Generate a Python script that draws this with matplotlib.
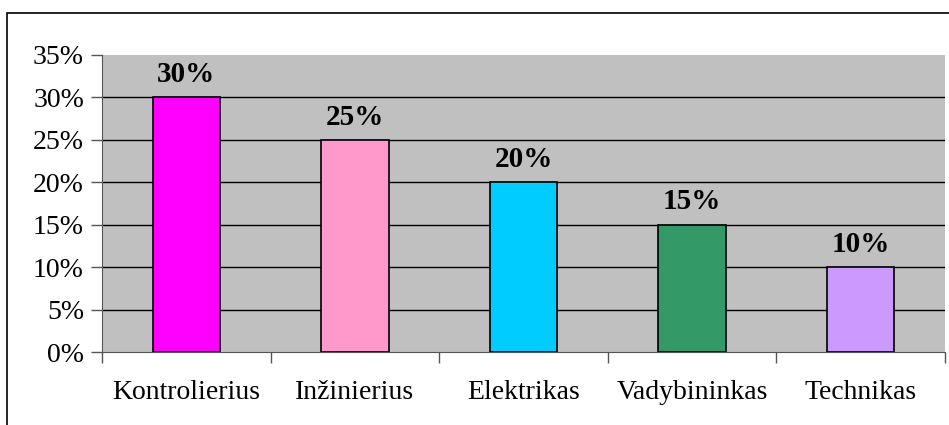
import matplotlib.pyplot as plt
from matplotlib.patches import Rectangle
from matplotlib.ticker import FuncFormatter, FixedLocator
import numpy as np

categories = ["Kontrolierius", "Inžinierius", "Elektrikas", "Vadybininkas", "Technikas"]
values = [30, 25, 20, 15, 10]
colors = ["#ff00ff", "#ff99cc", "#00ccff", "#339966", "#cc99ff"]

plt.rcParams['font.family'] = ['Liberation Serif', 'DejaVu Serif']

fig = plt.figure(figsize=(9.49, 4.25), dpi=100)
ax = fig.add_axes([102 / 949, 1 - 352 / 425, 843 / 949, 297 / 425])
ax.set_facecolor("#c0c0c0")

x = np.arange(len(categories))
ax.bar(x, np.array(values) / 100, width=0.4, color=colors, edgecolor="black", linewidth=1.2, zorder=3)
for xi, v in zip(x, values):
    ax.text(xi, v / 100 + 0.011, f"{v}%", ha="center", va="bottom", fontsize=21, fontweight="bold", zorder=4)

ax.set_xlim(-0.5, len(categories) - 0.5)
ax.set_ylim(0, 0.35)
ax.set_yticks(np.arange(0, 0.36, 0.05))
ax.yaxis.set_major_formatter(FuncFormatter(lambda v, p: f"{v * 100:.0f}%"))
for yv in np.arange(0.05, 0.31, 0.05):
    ax.axhline(yv, color="black", linewidth=1, zorder=1)

# category labels centred, tick marks on the boundaries
ax.set_xticks(x)
ax.set_xticklabels(categories)
ax.xaxis.set_minor_locator(FixedLocator(np.arange(-0.5, len(categories), 1)))
ax.tick_params(axis="x", which="major", length=0, pad=20, labelsize=20)
ax.tick_params(axis="x", which="minor", length=8, width=1, color="#555555", direction="out")
ax.tick_params(axis="y", length=8, width=1, color="#555555", direction="out", labelsize=20, pad=5)

ax.spines["top"].set_visible(False)
ax.spines["right"].set_visible(False)
ax.spines["left"].set_color("#555555")
ax.spines["bottom"].set_color("#555555")

fig.patches.append(Rectangle((7 / 949, -0.05), 1.0, 1 - 13 / 425 + 0.05, transform=fig.transFigure,
                             fill=False, edgecolor="black", linewidth=1.2))

fig.savefig("out.png", dpi=100)
